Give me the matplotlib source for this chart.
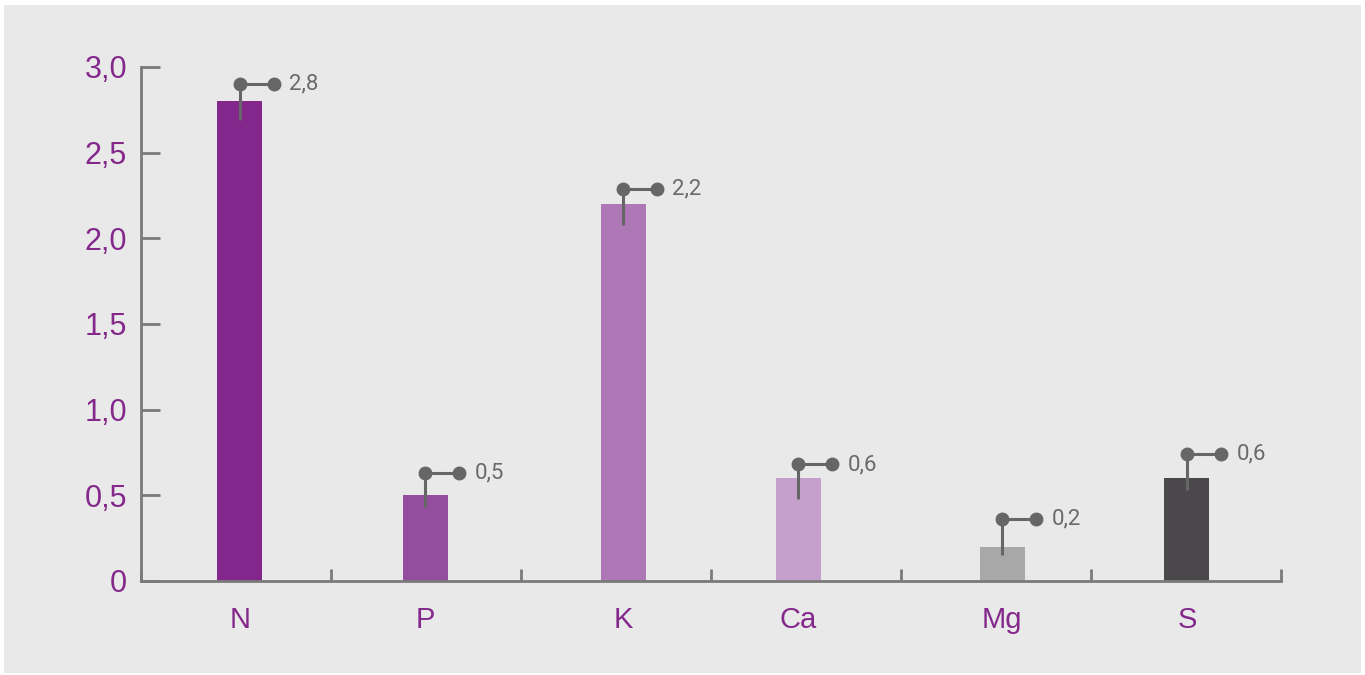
import numpy as np
import matplotlib.pyplot as plt
from matplotlib.patches import Rectangle

# data
cats = ["N", "P", "K", "Ca", "Mg", "S"]
vals = [2.8, 0.5, 2.2, 0.6, 0.2, 0.6]
err_hi = [2.90, 0.63, 2.29, 0.68, 0.36, 0.74]
err_lo = [2.69, 0.43, 2.08, 0.48, 0.15, 0.53]
colors = ["#84278c", "#934f9e", "#ad78b5", "#c6a0cd", "#a8a8a8", "#4a484a"]
yticks = [0, 0.5, 1.0, 1.5, 2.0, 2.5, 3.0]

purple = "#84288c"
grey = "#666666"

plt.rcParams['font.family'] = ['Liberation Sans', 'DejaVu Sans']

fig = plt.figure(figsize=(13.65, 6.75), dpi=100)
fig.patch.set_facecolor("white")
fig.patches.append(Rectangle((4/1365, 2/675), 1357/1365, 668/675, transform=fig.transFigure,
                             facecolor="#e9e9e9", edgecolor="none", zorder=-5))

ax = fig.add_axes([141/1365, 1-581/675, 1140/1365, 514/675])
ax.set_facecolor("none")
ax.set_zorder(2)

# bars sit a little off the slot centres in the original
xoff = [0.02, -0.005, 0.037, -0.042, 0.032, 0.005]
x = np.arange(len(cats)) + 0.5 + np.array(xoff)
ax.bar(x, vals, width=0.237, color=colors, zorder=2)

# callouts
dx = 0.18
for i in range(len(cats)):
	ax.plot([x[i], x[i]], [err_lo[i], err_hi[i]], color=grey, lw=2.2, zorder=3, solid_capstyle="butt")
	ax.plot([x[i], x[i]+dx], [err_hi[i], err_hi[i]], color=grey, lw=2.2, zorder=3,
			marker="o", markersize=9, markerfacecolor=grey, markeredgecolor=grey)
	ax.text(x[i]+dx+0.08, err_hi[i], ("%.1f" % vals[i]).replace(".", ","), color="#6a6a6a",
			fontsize=16, va="center", ha="left",
			family=["Roboto", "DejaVu Sans"])

ax.set_xlim(0, 6)
ax.set_ylim(0, 3.0)
ax.set_yticks(yticks)
ax.set_yticklabels(["0" if t == 0 else ("%.1f" % t).replace(".", ",") for t in yticks])
ax.set_xticks(range(7), minor=True)
ax.set_xticks(x)
ax.set_xticklabels(cats)

for sp in ["top", "right"]:
	ax.spines[sp].set_visible(False)
for sp in ["left", "bottom"]:
	ax.spines[sp].set_color("#7a7a7a")
	ax.spines[sp].set_linewidth(2)

ax.tick_params(axis="y", direction="in", length=14, width=2, color="#7a7a7a",
			   labelcolor=purple, labelsize=22, pad=10)
ax.tick_params(axis="x", which="major", length=0, labelcolor=purple, labelsize=21, pad=18)
ax.tick_params(axis="x", which="minor", direction="in", length=9, width=2, color="#7a7a7a")

fig.savefig("out.png", dpi=100)
